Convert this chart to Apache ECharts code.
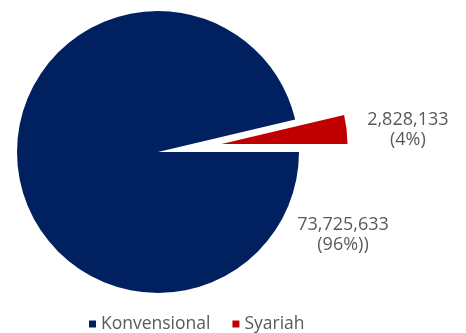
<!DOCTYPE html>
<html>
<head>
<meta charset="utf-8">
<script src="https://cdn.jsdelivr.net/npm/echarts@6/dist/echarts.min.js"></script>
<style>
html,body{margin:0;padding:0;background:#fff;}
#c{width:466px;height:333px;}
</style>
</head>
<body>
<div id="c"></div>
<script>
const categories = ['Konvensional', 'Syariah'];
const values = [73725633, 2828133];
const pctLabels = ['(96%))', '(4%)'];
const colors = ['#002060', '#C00000'];

const FONT = '"Open Sans", "Noto Sans", sans-serif';
const TXT = '#595959';

function fmt(i) {
  return '{a|' + values[i].toLocaleString('en-US') + '}\n{a|' + pctLabels[i] + '}';
}
const rich = { a: { align: 'center', fontFamily: FONT, fontSize: 18, color: TXT, lineHeight: 20 } };

const chart = echarts.init(document.getElementById('c'), null, { renderer: 'canvas' });

const mainData = categories.map((n, i) => ({
  name: n,
  value: values[i],
  itemStyle: { color: i === 0 ? colors[0] : 'rgba(0,0,0,0)' },
  label: i === 0
    ? { show: true, position: 'center', formatter: fmt(0), rich: rich }
    : { show: false }
}));

const explodedData = categories.map((n, i) => ({
  name: n,
  value: values[i],
  itemStyle: { color: i === 1 ? colors[1] : 'rgba(0,0,0,0)' },
  label: i === 1
    ? { show: true, position: 'outside', formatter: fmt(1), rich: rich }
    : { show: false }
}));

chart.setOption({
  backgroundColor: '#fff',
  animation: false,
  legend: {
    left: 84,
    top: 310,
    icon: 'rect',
    itemWidth: 7,
    itemHeight: 7,
    itemGap: 22,
    selectedMode: false,
    textStyle: { fontFamily: FONT, fontSize: 17.5, color: TXT, lineHeight: 18 },
    data: categories.map((n, i) => ({ name: n, itemStyle: { color: colors[i] } }))
  },
  series: [
    {
      type: 'pie',
      center: [158, 152],
      radius: 141,
      startAngle: 0,
      clockwise: true,
      emphasis: { disabled: true },
      labelLine: { show: false },
      labelLayout: function (p) {
        return p.dataIndex === 0 ? { dx: 185, dy: 83 } : {};
      },
      data: mainData
    },
    {
      type: 'pie',
      center: [221.5, 144],
      radius: 126,
      startAngle: 0,
      clockwise: true,
      silent: true,
      emphasis: { disabled: true },
      labelLine: { show: false, length: 0, length2: 15.5 },
      data: explodedData
    }
  ]
});
</script>
</body>
</html>
